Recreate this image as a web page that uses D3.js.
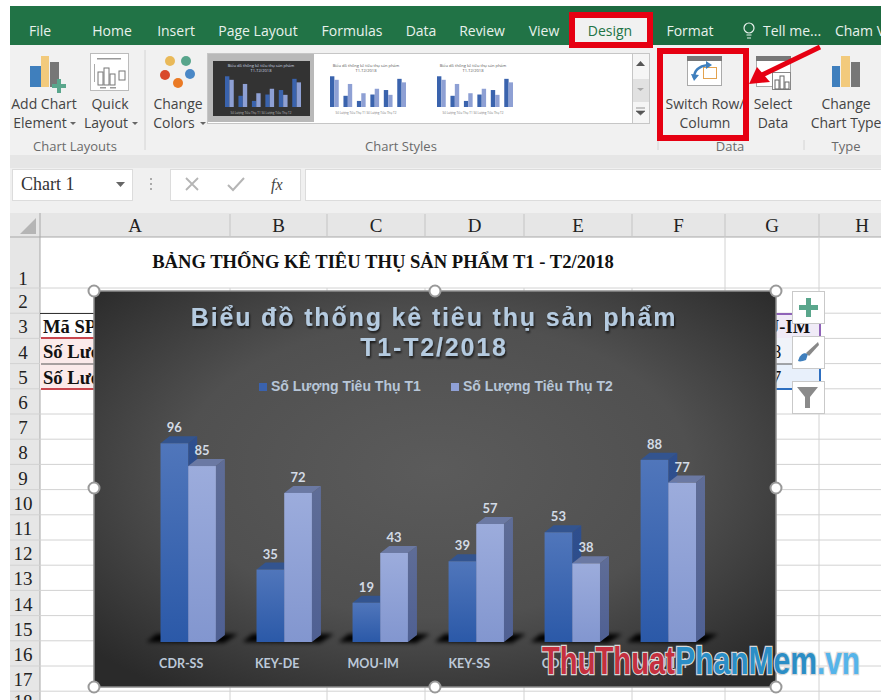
<!DOCTYPE html>
<html>
<head>
<meta charset="utf-8">
<script src="https://cdn.jsdelivr.net/npm/d3@7"></script>
<style>
html,body{margin:0;padding:0;background:#fff;}
svg{display:block;}
text{font-family:'Open Sans',sans-serif;}
.ui{font-size:14px;fill:#444;text-anchor:middle;}
.tab{font-size:14px;fill:#e8f1ec;text-anchor:middle;}
.group-label{font-size:13px;fill:#6a6a6a;text-anchor:middle;}
.head{font-family:'Liberation Serif',serif;font-size:19px;fill:#222;text-anchor:middle;}
.cell{font-family:'Liberation Serif',serif;font-size:18.6px;font-weight:bold;fill:#111;}
.axis-x text{font-family:Lato,sans-serif;font-size:12.5px;font-weight:bold;fill:#bcc8d8;}
.label{font-family:Lato,sans-serif;font-size:13px;font-weight:bold;fill:#d3dbe6;text-anchor:middle;}
.legend{font-family:'Liberation Sans',sans-serif;font-size:14px;font-weight:bold;fill:#b7c6d8;}
.title{font-family:'Liberation Sans',sans-serif;font-size:25px;font-weight:bold;fill:#b5cbe0;text-anchor:middle;letter-spacing:1.85px;}
</style>
</head>
<body>
<script>
//Chart values
var categories = ['CDR-SS','KEY-DE','MOU-IM','KEY-SS','CDR-DE','MOU-IM'];
var seriesNames = ['Số Lượng Tiêu Thụ T1','Số Lượng Tiêu Thụ T2'];
var valuesT1 = [96,35,19,39,53,88];
var valuesT2 = [85,72,43,57,38,77];
var chartTitle = ['Biểu đồ thống kê tiêu thụ sản phẩm','T1-T2/2018'];

//Sheet and ribbon content
var columnNames = ['A','B','C','D','E','F','G','H'];
var columnEdges = [40,230,327,425,524,632,725,819,905];
var rowNames = d3.range(1,18);
var tabNames = ['File','Home','Insert','Page Layout','Formulas','Data','Review','View','Design','Format','Tell me...','Cham V'];
var tabX = [40,112,176,258,352,421,482,544,610,690,792,860];

var W = 881, H = 700;
var svg = d3.select('body').append('svg').attr('width',W).attr('height',H);
var defs = svg.append('defs');

function linear(id,top,bottom){
    var g = defs.append('linearGradient').attr('id',id).attr('x1',0).attr('x2',0).attr('y1',0).attr('y2',1);
    g.append('stop').attr('offset',0).attr('stop-color',top);
    g.append('stop').attr('offset',1).attr('stop-color',bottom);
}
linear('t1Front','#5076bb','#2b59a8');
linear('t2Front','#9cacdc','#8296cf');
linear('t1Side','#2f4f8e','#2a4a88');
linear('t2Side','#5f6d97','#4f6093');

var bgGrad = defs.append('radialGradient').attr('id','chartBg').attr('cx','50%').attr('cy','45%').attr('r','68%');
bgGrad.append('stop').attr('offset',0).attr('stop-color','#5b5b5b');
bgGrad.append('stop').attr('offset',.55).attr('stop-color','#505050');
bgGrad.append('stop').attr('offset',1).attr('stop-color','#2a2a2a');

defs.append('filter').attr('id','blur').attr('x','-20%').attr('y','-60%').attr('width','140%').attr('height','220%')
    .append('feGaussianBlur').attr('stdDeviation',2.2);
var titleShadow = defs.append('filter').attr('id','titleShadow').attr('x','-5%').attr('y','-20%').attr('width','110%').attr('height','150%');
titleShadow.append('feDropShadow').attr('dx',1).attr('dy',2).attr('stdDeviation',1.2).attr('flood-color','#000').attr('flood-opacity',.7);

drawRibbon();
drawSheet();
drawChart();
drawExtras();

//Ribbon: tabs, buttons, gallery
function drawRibbon(){
    var g = svg.append('g');
    g.append('rect').attr('x',10).attr('y',6).attr('width',871).attr('height',39).attr('fill','#217346');
    g.append('rect').attr('x',570).attr('y',6).attr('width',311).attr('height',39).attr('fill','#1d6a40');
    g.append('rect').attr('x',10).attr('y',45).attr('width',871).attr('height',110).attr('fill','#f1f1f1');
    g.append('rect').attr('x',10).attr('y',155).attr('width',871).attr('height',13).attr('fill','#e6e6e6');
    g.append('rect').attr('x',10).attr('y',168).attr('width',871).attr('height',45).attr('fill','#f0f0f0');

    //active tab
    g.append('rect').attr('x',572).attr('y',15).attr('width',77).attr('height',30).attr('fill','#f1f1f1');
    g.selectAll('.tab').data(tabNames).enter().append('text')
        .attr('class','tab')
        .attr('x',function(d,i){return tabX[i]})
        .attr('y',36)
        .style('fill',function(d){return d=='Design'?'#217346':null})
        .text(function(d){return d});
    //light bulb
    g.append('circle').attr('cx',749).attr('cy',28).attr('r',5).attr('fill','none').attr('stroke','#e8f1ec').attr('stroke-width',1.2);
    g.append('path').attr('d','M746.5,35H751.5M747,38H751').attr('stroke','#e8f1ec').attr('stroke-width',1.2);

    var labels = [
        ['Add Chart',44,109],['Element',40,128],['Quick',110,109],['Layout',106,128],
        ['Change',178,109],['Colors',174,128],['Switch Row/',705,109],['Column',705,128],
        ['Select',773,109],['Data',773,128],['Change',846,109],['Chart Type',846,128]
    ];
    g.selectAll('.ui').data(labels).enter().append('text')
        .attr('class','ui')
        .attr('x',function(d){return d[1]})
        .attr('y',function(d){return d[2]})
        .text(function(d){return d[0]});
    //small menu arrows after the button names
    [70,132,200].forEach(function(x){
        g.append('path').attr('d','M'+x+',122h6l-3,3Z').attr('fill','#666');
    });
    var groups = [['Chart Layouts',75],['Chart Styles',401],['Data',730],['Type',846]];
    g.selectAll('.group-label').data(groups).enter().append('text')
        .attr('class','group-label')
        .attr('x',function(d){return d[1]})
        .attr('y',151)
        .text(function(d){return d[0]});
    [145,658,804].forEach(function(x,i){
        g.append('line').attr('x1',x).attr('x2',x).attr('y1',i?140:50).attr('y2',150).attr('stroke','#d4d4d4');
    });

    //add chart icon
    icon(g,[[30,66,11,21,'#3f7fbd'],[41,56,8,31,'#f2ca7c'],[50,62,9,25,'#777'],[57,79,4,14,'#5aa68c'],[52,84,14,4,'#5aa68c']]);
    //quick layout icon
    g.append('rect').attr('x',90.5).attr('y',53.5).attr('width',38).attr('height',37).attr('fill','#fff').attr('stroke','#bbb');
    icon(g,[[97,58,24,1.5,'#999'],[94,64,1,18,'#aaa'],[100,87,6,1.5,'#999'],[110,87,6,1.5,'#999']]);
    g.selectAll('.ql').data([[98,72,5,13],[104,68,5,17],[110,74,5,11],[119,71,6,9]]).enter().append('rect')
        .attr('x',function(d){return d[0]}).attr('y',function(d){return d[1]}).attr('width',function(d){return d[2]}).attr('height',function(d){return d[3]})
        .attr('fill','none').attr('stroke','#777');
    //colour dots
    var dots = [[170,61,'#e9b959'],[186,61,'#58a58c'],[165,75,'#d9482b'],[190,74,'#4a88c7'],[178,83,'#ea7a25']];
    g.selectAll('.dot').data(dots).enter().append('circle')
        .attr('cx',function(d){return d[0]}).attr('cy',function(d){return d[1]}).attr('r',5)
        .attr('fill',function(d){return d[2]});

    //gallery
    g.append('rect').attr('x',207.5).attr('y',53.5).attr('width',425).attr('height',70).attr('fill','#fff').attr('stroke','#c6c6c6');
    g.append('rect').attr('x',208).attr('y',54).attr('width',106).attr('height',68).attr('fill','#b9b9b9');
    g.append('rect').attr('x',213).attr('y',61).attr('width',97).attr('height',55).attr('fill','#333');
    thumbnail(g,213,61,true);
    thumbnail(g,318,61,false);
    thumbnail(g,425,61,false);
    //gallery scrollbar
    g.append('rect').attr('x',632.5).attr('y',53.5).attr('width',17).attr('height',70).attr('fill','#f5f5f5').attr('stroke','#c6c6c6');
    g.append('rect').attr('x',633).attr('y',79).attr('width',16).attr('height',23).attr('fill','#e1e1e1');
    g.append('path').attr('d','M636,66L640.5,61L645,66Z').attr('fill','#555');
    g.append('path').attr('d','M637,88L640.5,91L644,88Z').attr('fill','#aaa');
    g.append('path').attr('d','M636,108H645M636,111L640.5,115L645,111Z').attr('fill','#555').attr('stroke','#555').attr('stroke-width',.6);

    //switch row column icon
    g.append('rect').attr('x',687.5).attr('y',56.5).attr('width',34).attr('height',29).attr('fill','#fff').attr('stroke','#aaa');
    g.append('rect').attr('x',687).attr('y',56).attr('width',35).attr('height',5).attr('fill','#777');
    g.append('rect').attr('x',703.5).attr('y',67.5).attr('width',13).attr('height',11).attr('fill','#fff').attr('stroke','#e3a34f');
    g.append('path').attr('d','M694,78C694,70 700,66 708,65').attr('fill','none').attr('stroke','#3f7fbd').attr('stroke-width',2.5);
    g.append('path').attr('d','M691,74L694,81L699,75Z M706,61L712,65L706,69Z').attr('fill','#3f7fbd');
    //select data icon
    g.append('rect').attr('x',756.5).attr('y',56.5).attr('width',34).attr('height',30).attr('fill','#fff').attr('stroke','#aaa');
    g.append('rect').attr('x',756).attr('y',56).attr('width',35).attr('height',5).attr('fill','#777');
    g.append('rect').attr('x',772.5).attr('y',72.5).attr('width',18).attr('height',17).attr('fill','#fff').attr('stroke','#888');
    g.selectAll('.sd').data([[775,80,4,9],[780,76,4,13],[785,82,4,7]]).enter().append('rect')
        .attr('x',function(d){return d[0]}).attr('y',function(d){return d[1]}).attr('width',function(d){return d[2]}).attr('height',function(d){return d[3]})
        .attr('fill','none').attr('stroke','#666');
    //change type icon
    icon(g,[[832,66,8,21,'#3f7fbd'],[841,56,9,31,'#f2ca7c'],[851,62,9,25,'#777']]);

    //name box and formula bar
    g.append('rect').attr('x',12.5).attr('y',169.5).attr('width',120).attr('height',31).attr('fill','#fff').attr('stroke','#dcdcdc');
    g.append('text').attr('x',21).attr('y',190).attr('fill','#333').style('font-family',"'Liberation Serif'").style('font-size','18px').text('Chart 1');
    g.append('path').attr('d','M116,182L125,182L120.5,187Z').attr('fill','#666');
    g.append('path').attr('d','M151,178V180M151,183V185M151,188V190').attr('stroke','#aaa').attr('stroke-width',2);
    g.append('rect').attr('x',170.5).attr('y',169.5).attr('width',130).attr('height',31).attr('fill','#fff').attr('stroke','#dcdcdc');
    g.append('rect').attr('x',305.5).attr('y',169.5).attr('width',576).attr('height',31).attr('fill','#fff').attr('stroke','#dcdcdc');
    g.append('path').attr('d','M186,178L198,190M198,178L186,190').attr('stroke','#b5b5b5').attr('stroke-width',1.8);
    g.append('path').attr('d','M228,185L233,190L244,178').attr('fill','none').attr('stroke','#b5b5b5').attr('stroke-width',2);
    g.append('text').attr('x',271).attr('y',190).attr('fill','#444').style('font-family',"'Liberation Serif'").style('font-style','italic').style('font-size','16px').text('fx');
}

function icon(g,rects){
    rects.forEach(function(d){
        g.append('rect').attr('x',d[0]).attr('y',d[1]).attr('width',d[2]).attr('height',d[3]).attr('fill',d[4]);
    });
}

//small copy of the chart in the style gallery
function thumbnail(g,x0,y0,dark){
    var t = g.append('g').attr('transform','translate('+x0+','+y0+')');
    t.append('text').attr('x',48).attr('y',6).attr('text-anchor','middle')
        .style('font-size','4px').style('fill',dark?'#cfd8e3':'#555').text(chartTitle[0]);
    t.append('text').attr('x',48).attr('y',11).attr('text-anchor','middle')
        .style('font-size','4px').style('fill',dark?'#cfd8e3':'#555').text(chartTitle[1]);
    var sx = d3.scaleBand().domain(d3.range(categories.length)).range([12,88]).paddingInner(.35);
    var sy = d3.scaleLinear().domain([0,100]).range([46,14]);
    var step = sx.bandwidth()/2;
    [valuesT1,valuesT2].forEach(function(vals,s){
        t.selectAll('.m'+s).data(vals).enter().append('rect')
            .attr('x',function(d,i){return sx(i)+s*step})
            .attr('y',function(d){return sy(d)})
            .attr('width',step)
            .attr('height',function(d){return sy(0)-sy(d)})
            .attr('fill',s?'#8ea0d4':'#3a63ad');
    });
    t.append('text').attr('x',48).attr('y',53).attr('text-anchor','middle')
        .style('font-size','3px').style('fill',dark?'#bbb':'#777').text(seriesNames.join('   '));
}

//Worksheet: headers, grid, cells behind the chart
function drawSheet(){
    var g = svg.append('g');
    var rowY = d3.scaleLinear().domain([2,18]).range([288,691.2]);
    function rowTop(n){return n==1?237:rowY(n)}

    g.append('rect').attr('x',10).attr('y',213).attr('width',871).attr('height',24).attr('fill','#e6e6e6');
    g.append('rect').attr('x',10).attr('y',237).attr('width',30).attr('height',463).attr('fill','#e6e6e6');
    g.append('path').attr('d','M20,234L36,234L36,218Z').attr('fill','#b5b5b5');
    g.append('line').attr('x1',10).attr('x2',881).attr('y1',237).attr('y2',237).attr('stroke','#a8a8a8');
    g.append('line').attr('x1',40).attr('x2',40).attr('y1',213).attr('y2',700).attr('stroke','#a8a8a8');

    //grid
    g.selectAll('.hline').data(d3.range(2,19)).enter().append('line')
        .attr('x1',10).attr('x2',881)
        .attr('y1',function(d){return rowTop(d)}).attr('y2',function(d){return rowTop(d)})
        .attr('stroke','#d2d2d2');
    //first row is merged over the inner columns
    g.selectAll('.vline').data(columnEdges.slice(1,-1)).enter().append('line')
        .attr('x1',function(d){return d}).attr('x2',function(d){return d})
        .attr('y1',function(d){return d>=725?237:288}).attr('y2',700)
        .attr('stroke','#d2d2d2');
    g.selectAll('.vtick').data(columnEdges.slice(1,-1)).enter().append('line')
        .attr('x1',function(d){return d}).attr('x2',function(d){return d})
        .attr('y1',214).attr('y2',236)
        .attr('stroke','#c4c4c4');
    g.selectAll('.col').data(columnNames).enter().append('text')
        .attr('class','head')
        .attr('x',function(d,i){return (columnEdges[i]+columnEdges[i+1])/2})
        .attr('y',232)
        .text(function(d){return d});
    g.selectAll('.row').data(rowNames).enter().append('text')
        .attr('class','head')
        .attr('x',23)
        .attr('y',function(d){return (d==1?285:rowTop(d+1)-5)})
        .text(function(d){return d});
    g.append('text').attr('class','head').attr('x',23).attr('y',708).text('18');

    g.append('text').attr('class','cell').attr('x',383).attr('y',268).attr('text-anchor','middle')
        .text('BẢNG THỐNG KÊ TIÊU THỤ SẢN PHẨM T1 - T2/2018');

    //data table pieces left of the chart
    g.append('rect').attr('x',40).attr('y',338).attr('width',60).attr('height',51).attr('fill','#fbeaea');
    g.append('line').attr('x1',40).attr('x2',100).attr('y1',313.5).attr('y2',313.5).attr('stroke','#333');
    g.append('line').attr('x1',41).attr('x2',100).attr('y1',338).attr('y2',338).attr('stroke','#c8464e').attr('stroke-width',2);
    g.append('line').attr('x1',41).attr('x2',100).attr('y1',389).attr('y2',389).attr('stroke','#c8464e').attr('stroke-width',2);
    g.append('line').attr('x1',41).attr('x2',100).attr('y1',364).attr('y2',364).attr('stroke','#555');
    g.selectAll('.rh').data([['Mã SP',333],['Số Lượng',358],['Số Lượng',384]]).enter().append('text')
        .attr('class','cell').attr('x',43).attr('y',function(d){return d[1]}).text(function(d){return d[0]});

    //data table pieces right of the chart
    g.append('rect').attr('x',770).attr('y',314).attr('width',50).attr('height',24).attr('fill','#f0ebf7');
    g.append('rect').attr('x',770).attr('y',338).attr('width',50).attr('height',26).attr('fill','#f0f3f9');
    g.append('rect').attr('x',770).attr('y',364).attr('width',50).attr('height',25).attr('fill','#e8f0fb');
    g.append('path').attr('d','M770,314H820V338').attr('fill','none').attr('stroke','#8f63b8').attr('stroke-width',2);
    g.append('path').attr('d','M820,364V389H770').attr('fill','none').attr('stroke','#2e6fc0').attr('stroke-width',2);
    g.append('line').attr('x1',770).attr('x2',820).attr('y1',364).attr('y2',364).attr('stroke','#555');
    g.selectAll('.rv').data([['MOU-IM',333],[valuesT1[5],358],[valuesT2[5],384]]).enter().append('text')
        .attr('class','cell').attr('x',772).attr('y',function(d){return d[1]}).attr('text-anchor','middle')
        .style('font-weight',function(d,i){return i?'normal':'bold'})
        .text(function(d){return d[0]});
}

//The 3D column chart
function drawChart(){
    var m = {l:94,t:291,r:776,b:687};
    var plot = svg.append('g');
    plot.append('rect').attr('x',m.l).attr('y',m.t).attr('width',m.r-m.l).attr('height',m.b-m.t)
        .attr('fill','url(#chartBg)').attr('stroke','#8d8d8d').attr('stroke-width',1.5);

    plot.selectAll('.title').data(chartTitle).enter().append('text')
        .attr('class','title')
        .attr('x',434)
        .attr('y',function(d,i){return 326+i*30})
        .attr('filter','url(#titleShadow)')
        .text(function(d){return d});

    //legend
    var legendX = [271,463];
    var legend = plot.selectAll('.legend-item').data(seriesNames).enter().append('g').attr('class','legend-item');
    legend.append('rect')
        .attr('x',function(d,i){return legendX[i]-12}).attr('y',383).attr('width',8).attr('height',8)
        .attr('fill',function(d,i){return i?'#8fa0d6':'#3a62ae'});
    legend.append('text').attr('class','legend')
        .attr('x',function(d,i){return legendX[i]}).attr('y',391)
        .text(function(d){return d});

    //scales
    var scaleX = d3.scaleBand().domain(d3.range(categories.length)).range([160.5,696]).paddingInner(.423);
    var scaleS = d3.scaleBand().domain([0,1]).range([0,scaleX.bandwidth()]);
    var scaleY = d3.scaleLinear().domain([0,100]).range([642,435]);
    var dx = 9, dy = 7;

    //floor shadow under each group
    plot.selectAll('.shadow').data(categories).enter().append('path')
        .attr('d',function(d,i){
            var x = scaleX(i), b = scaleX.bandwidth();
            return 'M'+(x-14)+',642L'+(x-4)+',634L'+(x+b+22)+',634L'+(x+b+8)+',643Z';
        })
        .attr('fill','#000').attr('filter','url(#blur)');

    //draw series 2 after series 1 so the front faces overlap properly
    [valuesT1,valuesT2].forEach(function(values,s){
        var id = s?'t2':'t1';
        var bars = plot.selectAll('.bar-'+id).data(values).enter().append('g')
            .attr('class','bar-'+id)
            .attr('transform',function(d,i){return 'translate('+(scaleX(i)+scaleS(s))+',0)'});
        var w = scaleS.bandwidth();
        bars.append('path').attr('d',function(d){
            return 'M'+w+','+scaleY(d)+'l'+dx+','+(-dy)+'V'+(scaleY(0)-dy)+'l'+(-dx)+','+dy+'Z';
        }).attr('fill','url(#'+id+'Side)');
        bars.append('path').attr('d',function(d){
            return 'M0,'+scaleY(d)+'l'+dx+','+(-dy)+'h'+w+'l'+(-dx)+','+dy+'Z';
        }).attr('fill',s?'#6b79a3':'#33548f');
        bars.append('rect')
            .attr('y',function(d){return scaleY(d)})
            .attr('width',w)
            .attr('height',function(d){return scaleY(0)-scaleY(d)})
            .attr('fill','url(#'+id+'Front)');
        bars.append('text').attr('class','label')
            .attr('x',w/2)
            .attr('y',function(d){return scaleY(d)-11})
            .text(function(d){return d});
    });

    //category axis, line and ticks hidden
    var axisX = d3.axisBottom()
        .scale(scaleX)
        .tickSize(0)
        .tickFormat(function(i){return categories[i]});
    var gx = plot.append('g').attr('class','axis axis-x')
        .attr('transform','translate(-7,656)')
        .call(axisX);
    gx.select('.domain').remove();

    //resize handles
    var handles = [[m.l,m.t],[435,m.t],[m.r,m.t],[m.l,488],[m.r,488],[m.l,m.b],[435,m.b],[m.r,m.b]];
    plot.selectAll('.handle').data(handles).enter().append('circle')
        .attr('class','handle')
        .attr('cx',function(d){return d[0]}).attr('cy',function(d){return d[1]}).attr('r',5.5)
        .attr('fill','#fff').attr('stroke','#999').attr('stroke-width',2);
}

//Side buttons, red marks and watermark
function drawExtras(){
    var g = svg.append('g');
    [291,336,381].forEach(function(y){
        g.append('rect').attr('x',792.5).attr('y',y+.5).attr('width',32).attr('height',32).attr('fill','#fff').attr('stroke','#c9c9c9');
    });
    g.append('path').attr('d','M806,298h5v7h7v5h-7v7h-5v-7h-7v-5h7Z').attr('fill','#5aa68c');
    g.append('path').attr('d','M798,361C800,354 804,352 808,354L806,360C803,361 800,362 798,361Z').attr('fill','#3f7fbd');
    g.append('path').attr('d','M806,353L818,342L819,345L809,356Z').attr('fill','#888');
    g.append('path').attr('d','M797,387H818L810,397V408H805V397Z').attr('fill','#8a8a8a');

    //red call-outs
    g.append('rect').attr('x',572).attr('y',15).attr('width',78).attr('height',30).attr('fill','none').attr('stroke','#e60012').attr('stroke-width',6);
    g.append('rect').attr('x',660).attr('y',51).attr('width',86).attr('height',87).attr('fill','none').attr('stroke','#e60012').attr('stroke-width',6);
    g.append('line').attr('x1',820).attr('y1',47).attr('x2',762).attr('y2',75).attr('stroke','#e60012').attr('stroke-width',5);
    g.append('path').attr('d','M749,84L757,67L770,82Z').attr('fill','#e60012');

    //watermark
    var marks = [
        {t:'ThuThuat',x:542,w:133,c:'#c5303f'},
        {t:'PhanMem',x:675,w:142,c:'#2b8ec6'},
        {t:'.vn',x:817,w:43,c:'#55b4ea'}
    ];
    g.selectAll('.mark').data(marks).enter().append('text')
        .attr('class','mark')
        .attr('x',function(d){return d.x})
        .attr('y',674)
        .attr('textLength',function(d){return d.w})
        .attr('lengthAdjust','spacingAndGlyphs')
        .style('font-family',"'Liberation Sans'")
        .style('font-weight','bold')
        .style('font-size','38px')
        .style('paint-order','stroke')
        .style('stroke','#d9d9d9')
        .style('stroke-width','2.5px')
        .style('fill',function(d){return d.c})
        .text(function(d){return d.t});
}
</script>
</body>
</html>
